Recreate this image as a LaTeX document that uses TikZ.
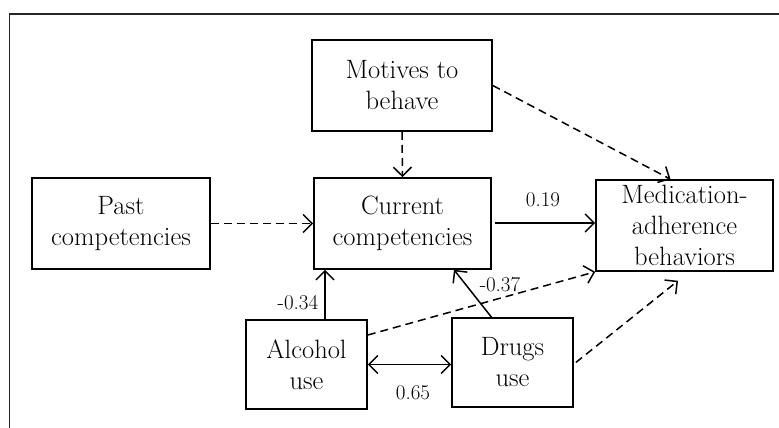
\documentclass[tikz,border=0pt]{standalone}
\usetikzlibrary{arrows.meta}
\begin{document}
\begin{tikzpicture}[x=1pt,y=-1pt,
  box/.style={draw,line width=1.6pt,align=center,inner sep=0pt,
    font=\fontsize{26.5}{31}\selectfont},
  lbl/.style={font=\fontsize{21}{24}\selectfont,inner sep=0pt},
  conn/.style={line width=1.5pt,-{Straight Barb[length=9pt,width=18pt,line width=1.5pt]}},
  dconn/.style={conn,dash pattern=on 8pt off 5pt}]
\useasboundingbox (0,0) rectangle (779,428);
\begin{scope}
\clip (0,0) rectangle (779,428);
\draw[line width=1.2pt,draw=black!85] (9.5,14) rectangle (800,450);
\end{scope}
\node[box,minimum width=180pt,minimum height=91pt] (mot) at (402,85.5) {Motives to\\behave};
\node[box,minimum width=178pt,minimum height=91pt] (past) at (121,223.5) {Past\\competencies};
\node[box,minimum width=177pt,minimum height=91pt] (cur) at (402.5,223.5) {Current\\competencies};
\node[box,minimum width=177pt,minimum height=91pt] (med) at (684.5,225.5) {Medication-\\adherence\\behaviors};
\node[box,minimum width=121pt,minimum height=89pt] (alc) at (306.5,364.5) {Alcohol\\use};
\node[box,minimum width=121pt,minimum height=89pt] (drg) at (512.5,362.5) {Drugs\\use};

\draw[dconn] (mot.south) -- (cur.north);
\draw[dconn] (mot.east) -- ([xshift=-14pt]med.north);
\draw[dconn] (past.east) -- (past.east -| cur.west);
\draw[conn,shorten <=3pt] ([yshift=0.5pt]cur.east) -- ([yshift=0.5pt]cur.east -| med.west);
\draw[conn] ([xshift=18.5pt]alc.north) -- ([xshift=18.5pt]alc.north |- cur.south);
\draw[conn] ([xshift=-21pt]drg.north) -- ([xshift=51.5pt]cur.south);
\draw[dconn] ([yshift=29.5pt]alc.east) -- (med.south west);
\draw[dconn] ([xshift=2pt]drg.east) -- ([xshift=-6.5pt,yshift=-9pt]med.south);
\draw[conn,{Straight Barb[length=9pt,width=18pt,line width=1.5pt]}-{Straight Barb[length=9pt,width=18pt,line width=1.5pt]}] (alc.east) -- (alc.east -| drg.west);

\node[lbl] (l1) at (543,200) {0.19};
\node[lbl] (l2) at (298,303) {-0.34};
\node[lbl] (l3) at (500,285) {-0.37};
\node[lbl] (l4) at (413,393) {0.65};
\end{tikzpicture}
\end{document}
